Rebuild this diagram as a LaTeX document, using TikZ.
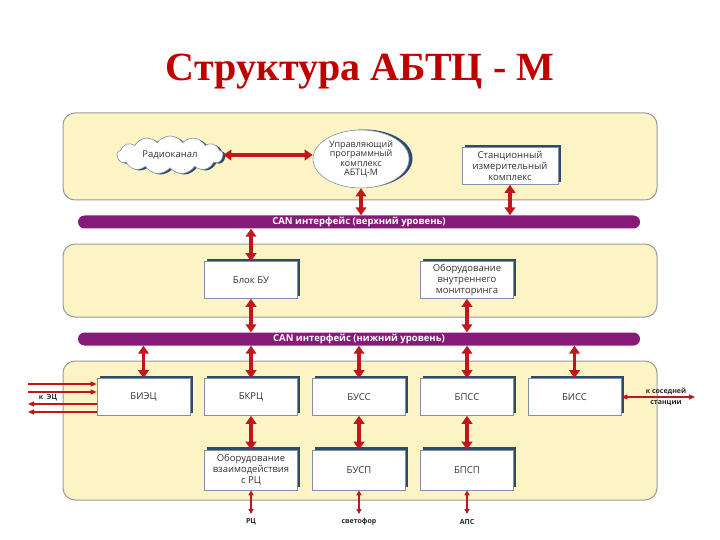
\documentclass[tikz,border=0pt]{standalone}
\usepackage{fontspec}
\setmainfont{Liberation Serif}
\newfontfamily\boxfont{Open Sans}
\usetikzlibrary{arrows.meta,shapes.symbols,shapes.geometric,shadows}
\definecolor{panelfill}{HTML}{FCF4C4}
\definecolor{panelline}{HTML}{9A9A9A}
\definecolor{canpurple}{HTML}{861A79}
\definecolor{arrowred}{HTML}{C0161C}
\definecolor{shadownavy}{HTML}{2E4A6B}
\definecolor{boxline}{HTML}{8090A8}
\definecolor{titlered}{HTML}{C00000}
\tikzset{
  panel/.style={draw=panelline, line width=1pt, fill=panelfill, rounded corners=12pt, minimum width=594pt},
  canbar/.style={fill=canpurple, rounded corners=6.5pt, minimum width=562pt, minimum height=13pt, inner sep=0pt,
    text=white, font=\boxfont\bfseries\fontsize{9.5}{10}\selectfont},
  blockbox/.style={draw=boxline, line width=0.6pt, fill=white, minimum width=93pt, minimum height=37pt, inner sep=1pt,
    align=center, font=\boxfont\fontsize{9.5}{11}\selectfont, text=black!80,
    drop shadow={shadow xshift=2.8pt, shadow yshift=2.8pt, fill=shadownavy, opacity=1}},
  bigarrow/.style={draw=arrowred, line width=3.4pt, {Triangle[width=10.5pt,length=8pt]}-{Triangle[width=10.5pt,length=8pt]}},
  thinarrow/.style={draw=arrowred, line width=1.2pt},
  smalllabel/.style={font=\boxfont\bfseries\fontsize{7}{8}\selectfont, text=black!85, inner sep=0pt}
}
\begin{document}
\begin{tikzpicture}[x=1pt,y=-1pt]
\useasboundingbox (0,0) rectangle (720,540);
% title
\node[font=\bfseries\fontsize{40}{44}\selectfont, text=titlered] (title) at (360,72) {Структура АБТЦ - М};
% panels
\node[panel, minimum height=87pt] (p1) at (360,156.5) {};
\node[panel, minimum height=73pt] (p2) at (360,280.5) {};
\node[panel, minimum height=139pt] (p3) at (360,430.5) {};
% CAN bars
\node[canbar] (can1) at (359,222) {CAN интерфейс (верхний уровень)};
\node[canbar] (can2) at (359,339) {CAN интерфейс (нижний уровень)};
% top level
\node[cloud, cloud puffs=13, cloud puff arc=110, aspect=3.0, draw=boxline, line width=0.6pt, fill=white,
  minimum width=106pt, minimum height=38pt, inner sep=0pt, font=\boxfont\fontsize{9.5}{10}\selectfont, text=black!80,
  drop shadow={shadow xshift=2.5pt, shadow yshift=-1pt, fill=shadownavy, opacity=1}] (radio) at (170,155) {Радиоканал};
\node[ellipse, draw=boxline, line width=0.6pt, fill=white, minimum width=96pt, minimum height=58pt, inner sep=0pt,
  align=center, font=\boxfont\fontsize{9}{9.6}\selectfont, text=black!80,
  drop shadow={shadow xshift=3.5pt, shadow yshift=0.5pt, fill=shadownavy, opacity=1}] (upk) at (361,159)
  {Управляющий\\программный\\комплекс\\АБТЦ-М};
\node[blockbox, minimum width=96pt] (sik) at (510,166) {Станционный\\измерительный\\комплекс};
% middle level
\node[blockbox] (bu) at (251,280) {Блок БУ};
\node[blockbox] (mon) at (467,280) {Оборудование\\внутреннего\\мониторинга};
% lower level row 1
\node[blockbox] (biec) at (143.5,397) {БИЭЦ};
\node[blockbox] (bkrc) at (251,397) {БКРЦ};
\node[blockbox] (buss) at (359,397) {БУСС};
\node[blockbox] (bpss) at (467,397) {БПСС};
\node[blockbox] (biss) at (574.5,397) {БИСС};
% row 2
\node[blockbox, minimum height=40pt] (ovz) at (251,470) {Оборудование\\взаимодействия\\с РЦ};
\node[blockbox, minimum height=40pt] (busp) at (359,470) {БУСП};
\node[blockbox, minimum height=40pt] (bpsp) at (467,470) {БПСП};
% bottom labels
\node[smalllabel] (lrc) at (251,522) {РЦ};
\node[smalllabel] (lsv) at (359,522) {светофор};
\node[smalllabel] (laps) at (467,522) {АПС};
\node[smalllabel] (lec) at (48,398) {к\ \ ЭЦ};
\node[smalllabel, align=center, font=\boxfont\bfseries\fontsize{7}{11}\selectfont] (lss) at (666,397) {к соседней\\станции};
% big arrows
\draw[bigarrow] (radio.east) -- (radio.east -| upk.west);
\draw[bigarrow] (upk.south) -- (upk.south |- can1.north);
\draw[bigarrow] (sik.south) -- (sik.south |- can1.north);
\draw[bigarrow] (bu.north |- can1.south) -- (bu.north);
\draw[bigarrow] (bu.south) -- (bu.south |- can2.north);
\draw[bigarrow] (mon.south) -- (mon.south |- can2.north);
\foreach \b in {biec,bkrc,buss,bpss,biss}{
  \draw[bigarrow] (\b.north |- can2.south) -- (\b.north);
}
\draw[bigarrow] (bkrc.south) -- (ovz.north);
\draw[bigarrow] (buss.south) -- (busp.north);
\draw[bigarrow] (bpss.south) -- (bpsp.north);
% thin arrows bottom
\coordinate (erc) at (251,514);
\coordinate (esv) at (359,514);
\coordinate (eaps) at (467,514);
\draw[thinarrow, {Triangle[width=5pt,length=5pt]}-{Triangle[width=5pt,length=5pt]}] (ovz.south) -- (erc);
\draw[thinarrow, {Triangle[width=5pt,length=5pt]}-{Triangle[width=5pt,length=5pt]}] (busp.south) -- (esv);
\draw[thinarrow, {Triangle[width=5pt,length=5pt]}-{Triangle[width=5pt,length=5pt]}] (bpsp.south) -- (eaps);
% left arrows
\coordinate (l1) at (28,384);
\coordinate (l2) at (28,392);
\coordinate (l3) at (28,404);
\coordinate (l4) at (28,412);
\draw[thinarrow, -{Triangle[width=5pt,length=6pt]}] (l1) -- (l1 -| biec.west);
\draw[thinarrow, -{Triangle[width=5pt,length=6pt]}] (l2) -- (l2 -| biec.west);
\draw[thinarrow, -{Triangle[width=5pt,length=6pt]}] (l3 -| biec.west) -- (l3);
\draw[thinarrow, -{Triangle[width=5pt,length=6pt]}] (l4 -| biec.west) -- (l4);
% right arrow
\coordinate (r1) at (695,397);
\draw[thinarrow, {Triangle[width=5pt,length=6pt]}-{Triangle[width=5pt,length=6pt]}] (biss.east) -- (r1);
\end{tikzpicture}
\end{document}
